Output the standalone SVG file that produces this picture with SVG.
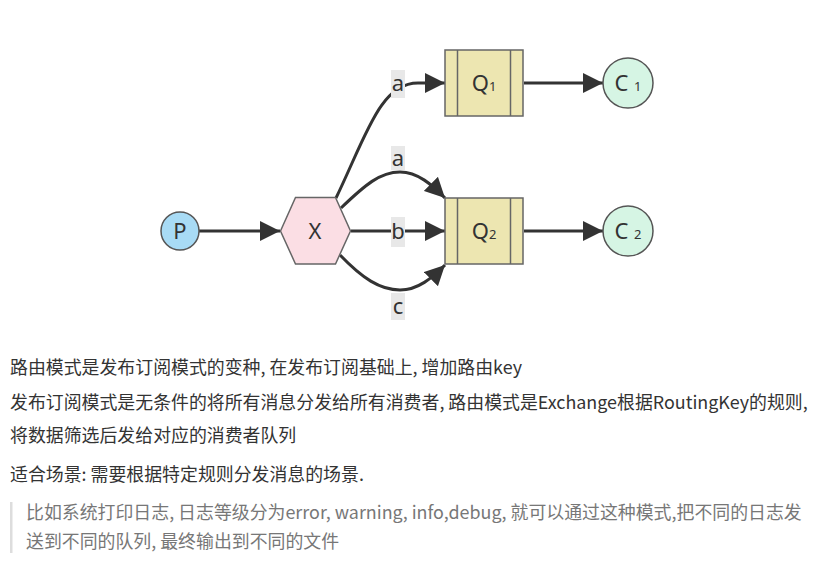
<svg xmlns="http://www.w3.org/2000/svg" width="832" height="568" viewBox="0 0 832 568">
<defs>
<marker id="arr" viewBox="0 0 20 20" refX="20" refY="10" markerWidth="20" markerHeight="20" markerUnits="userSpaceOnUse" orient="auto">
<path d="M0,0 L20,10 L0,20 Z" fill="#333"/>
</marker>
</defs>
<style>
.edge{fill:none;stroke:#333;stroke-width:3;}
.lbl{fill:#e8e8e8;}
.lt{font-family:"Noto Sans","Open Sans","Noto Sans CJK SC",sans-serif;font-size:22px;fill:#333;text-anchor:middle;}
.nt{font-family:"Noto Sans","Open Sans","Noto Sans CJK SC",sans-serif;font-size:22px;fill:#333;text-anchor:middle;}
.sub{font-size:13px;}
.q{fill:#ede6b1;stroke:#666;stroke-width:1.5;}
.c{fill:#d6f5e4;stroke:#555;stroke-width:1.5;}
.body{font-family:"Noto Sans CJK SC","Noto Sans",sans-serif;font-size:17.9px;fill:#333;}
.quote{font-family:"Noto Sans CJK SC","Noto Sans",sans-serif;font-size:17.9px;fill:#777;}
</style>
<rect width="832" height="568" fill="#fff"/>
<g id="connectors">
<path class="edge" d="M199,231 L280,231" marker-end="url(#arr)"/>
<path class="edge" d="M336,198 C366,136 380,83 418,83 L445,83" marker-end="url(#arr)"/>
<path class="edge" d="M341,208 C365,185 380,172 400,172 C418,172 432,185 445,198" marker-end="url(#arr)"/>
<path class="edge" d="M351,231 L445,231" marker-end="url(#arr)"/>
<path class="edge" d="M340,255 C362,278 380,290 400,290 C418,290 432,278 445,265" marker-end="url(#arr)"/>
<path class="edge" d="M524,83 L603,83" marker-end="url(#arr)"/>
<path class="edge" d="M524,231 L603,231" marker-end="url(#arr)"/>
<rect class="lbl" x="391" y="70" width="14" height="28"/>
<text class="lt" x="398" y="91">a</text>
<rect class="lbl" x="391" y="146" width="14" height="24"/>
<text class="lt" x="398" y="166">a</text>
<rect class="lbl" x="391" y="217" width="14" height="30"/>
<text class="lt" x="398" y="239">b</text>
<rect class="lbl" x="391" y="293" width="14" height="27"/>
<text class="lt" x="398" y="314">c</text>
</g>
<g id="node-P">
<circle cx="180" cy="231" r="19" fill="#a8dbf5" stroke="#555" stroke-width="1.5"/>
<text class="nt" x="180" y="239">P</text>
</g>
<g id="node-X">
<polygon points="280.5,231 295.5,197.5 335.5,197.5 350.5,231 335.5,264 295.5,264" fill="#fbdee4" stroke="#666" stroke-width="1.5"/>
<text class="nt" x="315" y="239">X</text>
</g>
<g id="node-Q1">
<rect class="q" x="445" y="50" width="78" height="66"/>
<line x1="457.5" y1="50" x2="457.5" y2="116" stroke="#666" stroke-width="1.5"/>
<line x1="510.5" y1="50" x2="510.5" y2="116" stroke="#666" stroke-width="1.5"/>
<text class="nt" x="484" y="91">Q<tspan class="sub">1</tspan></text>
</g>
<g id="node-Q2">
<rect class="q" x="445" y="198" width="78" height="66"/>
<line x1="457.5" y1="198" x2="457.5" y2="264" stroke="#666" stroke-width="1.5"/>
<line x1="510.5" y1="198" x2="510.5" y2="264" stroke="#666" stroke-width="1.5"/>
<text class="nt" x="484" y="239">Q<tspan class="sub">2</tspan></text>
</g>
<g id="node-C1">
<circle class="c" cx="628" cy="83" r="25"/>
<text class="nt" x="628" y="91">C <tspan class="sub">1</tspan></text>
</g>
<g id="node-C2">
<circle class="c" cx="628" cy="231" r="25"/>
<text class="nt" x="628" y="239">C <tspan class="sub">2</tspan></text>
</g>
<g id="text">
<text class="body" x="10" y="374">路由模式是发布订阅模式的变种, 在发布订阅基础上, 增加路由key</text>
<text class="body" x="10" y="409">发布订阅模式是无条件的将所有消息分发给所有消费者, 路由模式是Exchange根据RoutingKey的规则,</text>
<text class="body" x="10" y="442">将数据筛选后发给对应的消费者队列</text>
<text class="body" x="10" y="481">适合场景: 需要根据特定规则分发消息的场景.</text>
<rect x="10" y="502" width="2.5" height="51" fill="#ddd"/>
<text class="quote" x="26" y="519">比如系统打印日志, 日志等级分为error, warning, info,debug, 就可以通过这种模式,把不同的日志发</text>
<text class="quote" x="26" y="548">送到不同的队列, 最终输出到不同的文件</text>
</g>
</svg>
